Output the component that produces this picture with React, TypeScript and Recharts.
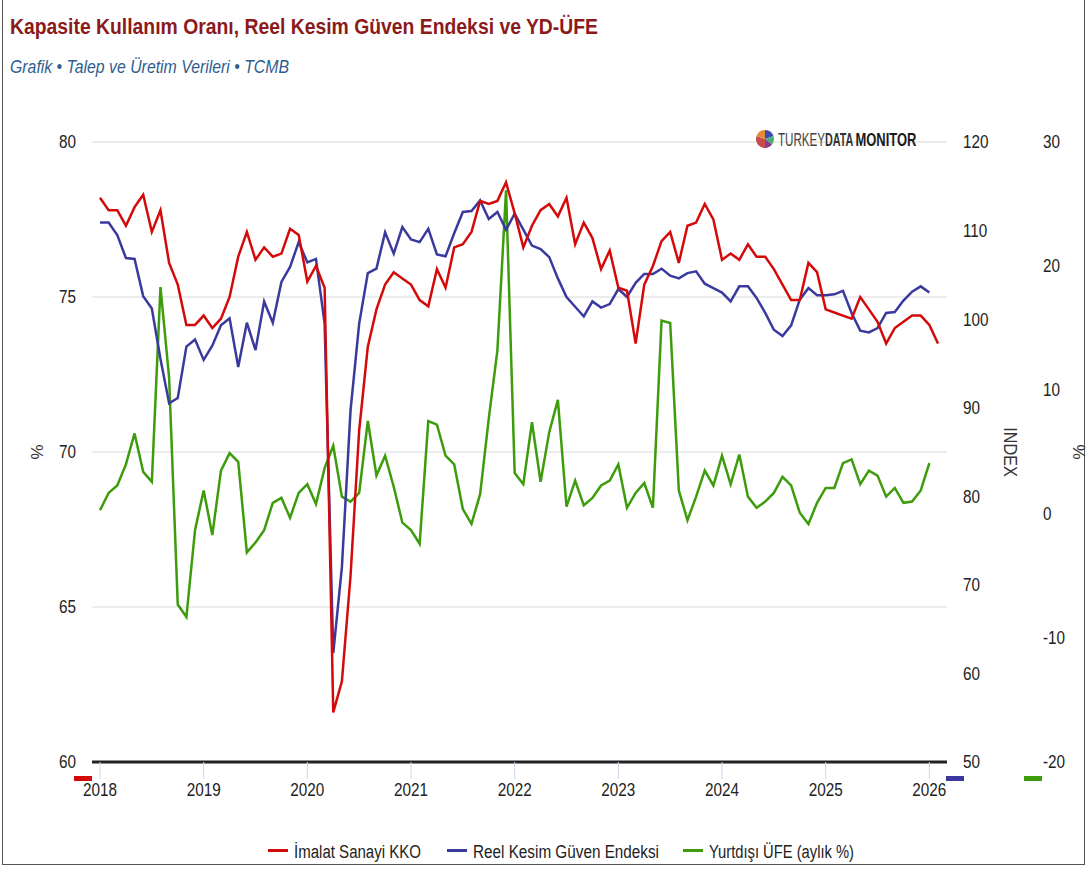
import React from 'react';
import { LineChart, Line, XAxis, YAxis, CartesianGrid } from 'recharts';

const FONT = '"Liberation Sans", Arial, sans-serif';

const months = [
  '2018-01','2018-02','2018-03','2018-04','2018-05','2018-06','2018-07','2018-08','2018-09','2018-10','2018-11','2018-12',
  '2019-01','2019-02','2019-03','2019-04','2019-05','2019-06','2019-07','2019-08','2019-09','2019-10','2019-11','2019-12',
  '2020-01','2020-02','2020-03','2020-04','2020-05','2020-06','2020-07','2020-08','2020-09','2020-10','2020-11','2020-12',
  '2021-01','2021-02','2021-03','2021-04','2021-05','2021-06','2021-07','2021-08','2021-09','2021-10','2021-11','2021-12',
  '2022-01','2022-02','2022-03','2022-04','2022-05','2022-06','2022-07','2022-08','2022-09','2022-10','2022-11','2022-12',
  '2023-01','2023-02','2023-03','2023-04','2023-05','2023-06','2023-07','2023-08','2023-09','2023-10','2023-11','2023-12',
  '2024-01','2024-02','2024-03','2024-04','2024-05','2024-06','2024-07','2024-08','2024-09','2024-10','2024-11','2024-12',
  '2025-01','2025-02','2025-03','2025-04','2025-05','2025-06','2025-07','2025-08','2025-09','2025-10','2025-11','2025-12',
  '2026-01','2026-02',
];

const yearTicks = ['2018-01','2019-01','2020-01','2021-01','2022-01','2023-01','2024-01','2025-01','2026-01'];

// İmalat Sanayi KKO (%)
const kko = [
  78.2, 77.8, 77.8, 77.3, 77.9, 78.3, 77.1, 77.8, 76.1, 75.4, 74.1, 74.1,
  74.4, 74.0, 74.3, 75.0, 76.3, 77.1, 76.2, 76.6, 76.3, 76.4, 77.2, 77.0,
  75.5, 76.0, 75.3, 61.6, 62.6, 66.0, 70.7, 73.4, 74.6, 75.4, 75.8, 75.6,
  75.4, 74.9, 74.7, 75.9, 75.3, 76.6, 76.7, 77.1, 78.1, 78.0, 78.1, 78.7,
  77.7, 76.6, 77.3, 77.8, 78.0, 77.6, 78.2, 76.7, 77.4, 76.9, 75.9, 76.5,
  75.3, 75.2, 73.5, 75.4, 76.0, 76.8, 77.1, 76.1, 77.3, 77.4, 78.0, 77.5,
  76.2, 76.4, 76.2, 76.7, 76.3, 76.3, 75.9, 75.4, 74.9, 74.9, 76.1, 75.8,
  74.6, 74.5, 74.4, 74.3, 75.0, 74.6, 74.2, 73.5, 74.0, 74.2, 74.4, 74.4,
  74.1, 73.5,
];

// Reel Kesim Güven Endeksi (index)
const rkge = [
  110.9, 110.9, 109.5, 106.9, 106.8, 102.6, 101.2, 95.5, 90.5, 91.1, 96.9, 97.7,
  95.4, 97.0, 99.3, 100.1, 94.6, 99.6, 96.5, 102.0, 99.6, 104.2, 105.9, 108.7,
  106.4, 106.8, 99.5, 62.3, 72.0, 89.7, 99.5, 105.2, 105.7, 109.8, 107.4, 110.4,
  109.0, 108.7, 110.2, 107.3, 107.1, 109.7, 112.1, 112.2, 113.4, 111.3, 112.1, 110.1,
  111.9, 110.1, 108.3, 107.9, 107.0, 104.6, 102.5, 101.4, 100.3, 102.0, 101.3, 101.7,
  103.4, 102.5, 104.1, 105.1, 105.1, 105.7, 104.9, 104.6, 105.2, 105.4, 104.0, 103.5,
  103.0, 102.0, 103.7, 103.7, 102.4, 100.7, 98.8, 98.1, 99.3, 102.2, 103.5, 102.7,
  102.7, 102.8, 103.2, 100.7, 98.7, 98.5, 99.0, 100.7, 100.8, 102.1, 103.1, 103.7,
  103.0, null,
];

// Yurtdışı ÜFE (aylık %)
const ufe = [
  0.3, 1.7, 2.3, 4.0, 6.5, 3.4, 2.6, 18.3, 11.0, -7.3, -8.3, -1.3,
  1.9, -1.7, 3.5, 4.9, 4.2, -3.1, -2.3, -1.3, 0.9, 1.3, -0.3, 1.7,
  2.4, 0.8, 3.7, 5.5, 1.4, 1.0, 1.7, 7.5, 3.1, 4.7, 2.2, -0.7,
  -1.3, -2.4, 7.5, 7.2, 4.7, 4.0, 0.4, -0.8, 1.6, 7.7, 13.2, 26.1,
  3.3, 2.4, 7.4, 2.6, 6.6, 9.2, 0.6, 2.7, 0.7, 1.3, 2.3, 2.7,
  4.0, 0.5, 1.7, 2.5, 0.5, 15.6, 15.4, 1.9, -0.5, 1.4, 3.5, 2.3,
  4.7, 2.4, 4.8, 1.4, 0.5, 1.0, 1.7, 3.0, 2.3, 0.1, -0.8, 0.9,
  2.1, 2.1, 4.1, 4.4, 2.4, 3.5, 3.1, 1.4, 2.1, 0.9, 1.0, 1.9,
  4.1, null,
];

const kkoTicks = [60, 65, 70, 75, 80];
const rkgeTicks = [50, 60, 70, 80, 90, 100, 110, 120];
const ufeTicks = [-20, -10, 0, 10, 20, 30];

const seriesNames = ['İmalat Sanayi KKO', 'Reel Kesim Güven Endeksi', 'Yurtdışı ÜFE (aylık %)'];
const COLORS = ['#d40a0a', '#3a3a9e', '#3c9c0c'];

const data = months.map((m, i) => ({ m, kko: kko[i], rkge: rkge[i], ufe: ufe[i] }));

const SX = 0.85;

const NarrowTick = (props: any) => {
  const { x, y, payload, textAnchor, vertical, fmt } = props;
  const label = fmt ? fmt(payload.value) : String(payload.value);
  return (
    <g transform={`translate(${x},${y})`}>
      <text
        transform={`scale(${SX},1)`}
        textAnchor={textAnchor}
        dy={vertical ? '0.71em' : '0.36em'}
        fontFamily={FONT}
        fontSize={18}
        fill="#222"
      >
        {label}
      </text>
    </g>
  );
};

const legendX = [
  { sym: 268, text: 294, len: 127 },
  { sym: 447, text: 473, len: 186 },
  { sym: 683, text: 709, len: 145 },
];

export default function App() {
  return (
    <div style={{ position: 'absolute', left: 0, top: 0, width: 1089, height: 869, background: '#fff', overflow: 'hidden' }}>
      <div style={{ position: 'absolute', left: 2, top: -1, width: 1083, height: 866, border: '1px solid #555', boxSizing: 'border-box' }} />
      <div style={{ position: 'absolute', left: 0, top: 0 }}>
        <LineChart width={1089} height={869} data={data} margin={{ top: 142, right: 0, bottom: 67, left: 0 }}>
          <CartesianGrid yAxisId="kko" vertical={false} stroke="#e6e6e6" strokeWidth={1.5} />
          <XAxis
            dataKey="m"
            type="category"
            scale="point"
            padding={{ left: 8, right: 9 }}
            ticks={yearTicks}
            interval={0}
            axisLine={{ stroke: '#222', strokeWidth: 3 }}
            tickLine={{ stroke: '#ccd6eb', strokeWidth: 1 }}
            tickSize={17}
            tickMargin={4}
            height={40}
            tick={<NarrowTick vertical fmt={(v: string) => v.slice(0, 4)} />}
          />
          <YAxis
            yAxisId="kko"
            orientation="left"
            domain={[60, 80]}
            ticks={kkoTicks}
            width={92}
            axisLine={false}
            tickLine={false}
            tickSize={0}
            tickMargin={16}
            tick={<NarrowTick />}
            allowDataOverflow
          />
          <YAxis
            yAxisId="rkge"
            orientation="right"
            domain={[50, 120]}
            ticks={rkgeTicks}
            width={77}
            axisLine={false}
            tickLine={false}
            tickSize={0}
            tickMargin={16}
            tick={<NarrowTick />}
            allowDataOverflow
          />
          <YAxis
            yAxisId="ufe"
            orientation="right"
            domain={[-20, 30]}
            ticks={ufeTicks}
            width={65}
            axisLine={false}
            tickLine={false}
            tickSize={0}
            tickMargin={19}
            tick={<NarrowTick />}
            allowDataOverflow
          />
          <Line yAxisId="ufe" dataKey="ufe" name={seriesNames[2]} stroke={COLORS[2]} strokeWidth={2.5} dot={false} isAnimationActive={false} connectNulls={false} />
          <Line yAxisId="rkge" dataKey="rkge" name={seriesNames[1]} stroke={COLORS[1]} strokeWidth={2.5} dot={false} isAnimationActive={false} connectNulls={false} />
          <Line yAxisId="kko" dataKey="kko" name={seriesNames[0]} stroke={COLORS[0]} strokeWidth={2.5} dot={false} isAnimationActive={false} />
        </LineChart>
      </div>
      <svg width={1089} height={869} style={{ position: 'absolute', left: 0, top: 0, pointerEvents: 'none' }}>
        <text x={10} y={34} fontFamily={FONT} fontWeight={700} fontSize={22} fill="#8b1a1a" textLength={588} lengthAdjust="spacingAndGlyphs">
          Kapasite Kullanım Oranı, Reel Kesim Güven Endeksi ve YD-ÜFE
        </text>
        <text x={10} y={73} fontFamily={FONT} fontStyle="italic" fontSize={18} fill="#2f5d8e" textLength={279} lengthAdjust="spacingAndGlyphs">
          Grafik • Talep ve Üretim Verileri • TCMB
        </text>
        {/* logo */}
        <g transform="translate(765,139)">
          <path d="M0 0 L0 -9 A9 9 0 0 1 8.5 -3 Z" fill="#3a4bb0" />
          <path d="M0 0 L8.5 -3 A9 9 0 0 1 7 5.5 Z" fill="#4caf7a" />
          <path d="M0 0 L7 5.5 A9 9 0 0 1 0 9 Z" fill="#8a3a8a" />
          <path d="M0 0 L0 9 A9 9 0 0 1 -8.5 -3 Z" fill="#c84a4a" />
          <path d="M0 0 L-8.5 -3 A9 9 0 0 1 0 -9 Z" fill="#e08a3a" />
        </g>
        <text transform="translate(778,146) scale(0.645,1)" fontFamily={FONT} fontSize={18} fill="#444">TURKEY</text>
        <text transform="translate(825,146) scale(0.6,1)" fontFamily={FONT} fontSize={18} fontWeight={700} fill="#333">DATA</text>
        <text transform="translate(855.5,146) scale(0.72,1)" fontFamily={FONT} fontSize={18} fontWeight={700} fill="#1a1a1a">MONITOR</text>
        {/* axis titles */}
        <text transform="translate(43,452) rotate(-90)" textAnchor="middle" fontFamily={FONT} fontSize={17} fill="#333">%</text>
        <text transform="translate(1004,452) rotate(90) scale(0.9,1)" textAnchor="middle" fontFamily={FONT} fontSize={18} fill="#333">INDEX</text>
        <text transform="translate(1073,452) rotate(90)" textAnchor="middle" fontFamily={FONT} fontSize={17} fill="#333">%</text>
        {/* axis colour markers */}
        <rect x={74} y={776} width={18} height={5} fill={COLORS[0]} />
        <rect x={946} y={776} width={18} height={5} fill={COLORS[1]} />
        <rect x={1024} y={776} width={18} height={5} fill={COLORS[2]} />
        {/* legend */}
        {seriesNames.map((n, i) => (
          <g key={n}>
            <rect x={legendX[i].sym} y={849} width={20} height={3} fill={COLORS[i]} />
            <text x={legendX[i].text} y={858} fontFamily={FONT} fontSize={18} fill="#222" textLength={legendX[i].len} lengthAdjust="spacingAndGlyphs">
              {n}
            </text>
          </g>
        ))}
      </svg>
    </div>
  );
}
